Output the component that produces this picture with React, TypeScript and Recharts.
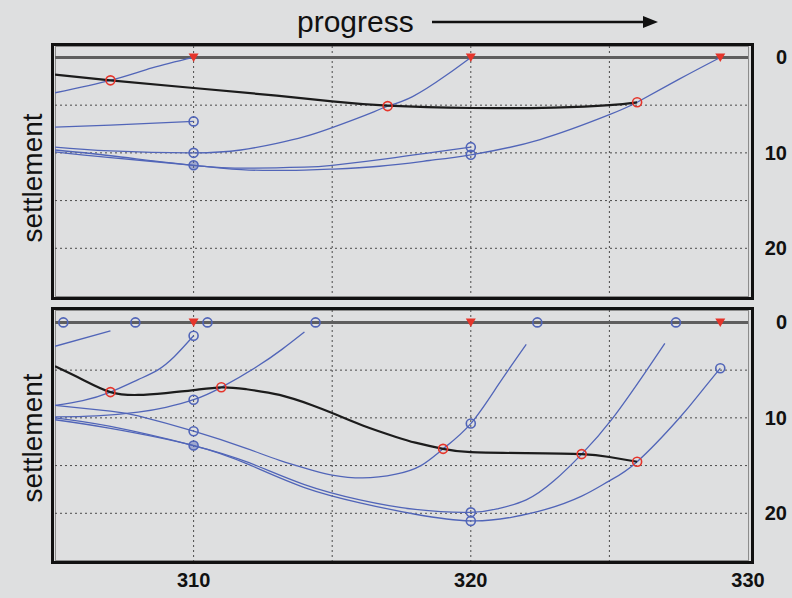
import { LineChart, Line, XAxis, YAxis, CartesianGrid, ReferenceLine } from "recharts";

type Pt = { x: number; y: number };

const xTicks = [310, 320, 330];
const yTicks = [0, 10, 20];
const gridX = [310, 315, 320, 325];
const gridY = [5, 10, 15, 20];

// upper panel
const topBlack: Pt[] = [
  { x: 305, y: 1.8 }, { x: 307, y: 2.4 }, { x: 310, y: 3.2 }, { x: 313, y: 4.0 }, { x: 315, y: 4.6 },
  { x: 317, y: 5.05 }, { x: 320, y: 5.3 }, { x: 323, y: 5.25 }, { x: 325, y: 5.0 }, { x: 326, y: 4.7 },
];
const topCurve1: Pt[] = [{ x: 305, y: 3.7 }, { x: 307, y: 2.4 }, { x: 308.5, y: 1.1 }, { x: 310, y: 0 }];
const topCurve2: Pt[] = [{ x: 305, y: 7.3 }, { x: 307, y: 7.1 }, { x: 310, y: 6.7 }];
const topCurve3: Pt[] = [
  { x: 305, y: 9.4 }, { x: 307, y: 9.8 }, { x: 310, y: 10 }, { x: 311.7, y: 9.7 }, { x: 313, y: 9.0 },
  { x: 314, y: 8.3 }, { x: 315, y: 7.35 }, { x: 316.5, y: 5.7 }, { x: 317, y: 5.1 }, { x: 317.9, y: 4.1 },
  { x: 319.1, y: 1.9 }, { x: 320, y: 0 },
];
const topCurve4: Pt[] = [
  { x: 305, y: 9.7 }, { x: 307, y: 10.3 }, { x: 310, y: 11.3 }, { x: 312, y: 11.6 }, { x: 314, y: 11.5 },
  { x: 315, y: 11.3 }, { x: 317, y: 10.6 }, { x: 318.5, y: 10.0 }, { x: 320, y: 9.4 },
];
const topCurve5: Pt[] = [
  { x: 305, y: 9.9 }, { x: 307, y: 10.5 }, { x: 310, y: 11.3 }, { x: 312, y: 11.8 }, { x: 314, y: 11.8 },
  { x: 315, y: 11.7 }, { x: 316.7, y: 11.4 }, { x: 318.5, y: 10.8 }, { x: 320, y: 10.2 }, { x: 322.5, y: 8.6 },
  { x: 325, y: 6.0 }, { x: 326, y: 4.7 }, { x: 327.5, y: 2.3 }, { x: 329, y: 0 },
];
const topRed: Pt[] = [{ x: 307, y: 2.4 }, { x: 317, y: 5.1 }, { x: 326, y: 4.7 }];
const topTri: Pt[] = [{ x: 310, y: 0 }, { x: 320, y: 0 }, { x: 329, y: 0 }];
const topBlue: Pt[] = [{ x: 310, y: 6.7 }, { x: 310, y: 10 }, { x: 320, y: 9.4 }, { x: 320, y: 10.2 }];
const topBlueDouble: Pt[] = [{ x: 310, y: 11.3 }];

// lower panel
const botBlack: Pt[] = [
  { x: 305, y: 4.6 }, { x: 306, y: 6.0 }, { x: 307, y: 7.3 }, { x: 308, y: 7.6 }, { x: 309, y: 7.4 },
  { x: 310, y: 7.1 }, { x: 311, y: 6.8 }, { x: 311.9, y: 7.0 }, { x: 313.1, y: 7.6 }, { x: 314.3, y: 8.7 },
  { x: 315, y: 9.5 }, { x: 316.1, y: 10.8 }, { x: 317.3, y: 12.0 }, { x: 318, y: 12.6 }, { x: 319, y: 13.25 },
  { x: 320, y: 13.6 }, { x: 322, y: 13.7 }, { x: 324, y: 13.8 }, { x: 325, y: 14.1 }, { x: 326, y: 14.6 },
];
const botCurve1: Pt[] = [{ x: 305, y: 2.5 }, { x: 307, y: 0.9 }];
const botCurve2: Pt[] = [
  { x: 305, y: 8.7 }, { x: 306, y: 8.2 }, { x: 307, y: 7.3 }, { x: 308, y: 6.0 }, { x: 308.7, y: 5.0 },
  { x: 309.3, y: 3.6 }, { x: 310, y: 1.4 },
];
const botCurve3: Pt[] = [
  { x: 305, y: 8.7 }, { x: 307, y: 9.3 }, { x: 308, y: 9.8 }, { x: 310, y: 11.4 }, { x: 311.9, y: 13.2 },
  { x: 313.1, y: 14.45 }, { x: 314.3, y: 15.5 }, { x: 315, y: 16.0 }, { x: 316.1, y: 16.3 }, { x: 317.3, y: 15.9 },
  { x: 318.2, y: 15.0 }, { x: 319, y: 13.25 }, { x: 320, y: 10.6 }, { x: 321, y: 6.5 }, { x: 322, y: 2.3 },
];
const botCurve4: Pt[] = [
  { x: 305, y: 9.9 }, { x: 306.5, y: 9.8 }, { x: 308, y: 9.4 }, { x: 309, y: 8.9 }, { x: 310, y: 8.1 },
  { x: 311, y: 6.8 }, { x: 312.3, y: 4.6 }, { x: 313.2, y: 2.8 }, { x: 314, y: 1.0 },
];
const botCurve5: Pt[] = [
  { x: 305, y: 10.0 }, { x: 307, y: 10.9 }, { x: 310, y: 12.9 }, { x: 312, y: 14.7 }, { x: 314, y: 17.0 },
  { x: 316, y: 18.6 }, { x: 318, y: 19.6 }, { x: 320, y: 19.9 }, { x: 321, y: 19.5 }, { x: 322, y: 18.6 },
  { x: 323, y: 16.6 }, { x: 324, y: 13.8 }, { x: 325.1, y: 10.1 }, { x: 326.3, y: 5.2 }, { x: 327, y: 2.2 },
];
const botCurve6: Pt[] = [
  { x: 305, y: 10.2 }, { x: 307, y: 11.1 }, { x: 310, y: 12.9 }, { x: 312, y: 14.9 }, { x: 314, y: 17.3 },
  { x: 316, y: 18.9 }, { x: 318, y: 20.1 }, { x: 320, y: 20.8 }, { x: 321.5, y: 20.4 }, { x: 322.7, y: 19.6 },
  { x: 324, y: 18.2 }, { x: 325, y: 16.6 }, { x: 326, y: 14.6 }, { x: 327.5, y: 10.1 }, { x: 328.3, y: 7.3 },
  { x: 329, y: 4.8 },
];
const botRed: Pt[] = [
  { x: 307, y: 7.3 }, { x: 311, y: 6.8 }, { x: 319, y: 13.25 }, { x: 324, y: 13.8 }, { x: 326, y: 14.6 },
];
const botTri: Pt[] = [{ x: 310, y: 0 }, { x: 320, y: 0 }, { x: 329, y: 0 }];
const botBlue: Pt[] = [
  { x: 305.3, y: 0 }, { x: 307.9, y: 0 }, { x: 310.5, y: 0 }, { x: 314.4, y: 0 }, { x: 322.4, y: 0 },
  { x: 327.4, y: 0 }, { x: 310, y: 1.4 }, { x: 310, y: 8.1 }, { x: 310, y: 11.4 }, { x: 320, y: 10.6 },
  { x: 320, y: 19.9 }, { x: 320, y: 20.8 }, { x: 329, y: 4.8 },
];
const botBlueDouble: Pt[] = [{ x: 310, y: 12.9 }];

const BG = "#dedfe0";
const BLUE = "#5165b8";
const RED = "#e5352b";
const FONT = "'Liberation Sans', Arial, sans-serif";

const openDot = (color: string, fill = "none") => (p: any) => (
  <circle key={p.index} cx={p.cx} cy={p.cy} r={4.5} fill={fill} stroke={color} strokeWidth={1.6} />
);
const triDot = (p: any) => (
  <path key={p.index} d={`M${p.cx - 5},${p.cy - 4}L${p.cx + 5},${p.cy - 4}L${p.cx},${p.cy + 4.5}Z`} fill={RED} />
);

const YTick = (p: any) => (
  <text x={p.x + 39} y={p.y + 7} textAnchor="end" fontFamily={FONT} fontWeight="bold" fontSize={20} fill="#111">
    {p.payload.value}
  </text>
);
const XTick = (p: any) => (
  <text x={p.x} y={p.y + 26} textAnchor="middle" fontFamily={FONT} fontWeight="bold" fontSize={20} fill="#111">
    {p.payload.value}
  </text>
);

function Panel(props: {
  top: number; height: number; bottom: number; yMin: number; showX: boolean;
  curves: Pt[][]; black: Pt[]; red: Pt[]; tri: Pt[]; blue: Pt[]; blueDouble: Pt[];
}) {
  const { top, height, bottom, yMin, showX, curves, black, red, tri, blue, blueDouble } = props;
  return (
    <div style={{ position: "absolute", left: 0, top, width: 792, height }}>
      <LineChart width={792} height={height} margin={{ top: 46, right: 0, left: 55, bottom }}>
        <CartesianGrid stroke="#4a4a4a" strokeDasharray="2 3" horizontalValues={gridY} verticalValues={gridX} />
        <XAxis type="number" dataKey="x" domain={[305, 330]} ticks={xTicks} interval={0} hide={!showX}
          allowDataOverflow axisLine={false} tickLine={false} tickSize={0} tickMargin={0} tick={<XTick />} height={30} />
        <YAxis orientation="right" type="number" dataKey="y" domain={[yMin, 25]} reversed ticks={yTicks} interval={0}
          allowDataOverflow axisLine={false} tickLine={false} tickSize={0} tickMargin={0} tick={<YTick />} width={44} />
        <ReferenceLine y={0} stroke="#5e5e5e" strokeWidth={3} />
        {curves.map((c, i) => (
          <Line key={i} data={c} dataKey="y" type="natural" stroke={BLUE} strokeWidth={1.3} dot={false}
            activeDot={false} isAnimationActive={false} />
        ))}
        <Line data={black} dataKey="y" type="natural" stroke="#1c1c1c" strokeWidth={2.2} dot={false}
          activeDot={false} isAnimationActive={false} />
        <Line data={blue} dataKey="y" stroke="none" dot={openDot(BLUE)} activeDot={false} isAnimationActive={false} />
        <Line data={blueDouble} dataKey="y" stroke="none" dot={openDot(BLUE, "rgba(81,101,184,0.45)")}
          activeDot={false} isAnimationActive={false} />
        <Line data={red} dataKey="y" stroke="none" dot={openDot(RED)} activeDot={false} isAnimationActive={false} />
        <Line data={tri} dataKey="y" stroke="none" dot={triDot} activeDot={false} isAnimationActive={false} />
      </LineChart>
    </div>
  );
}

const frame = (top: number) => (
  <>
    <div style={{ position: "absolute", left: 51, top: top - 3, width: 703, height: 257, border: "3px solid #111", boxSizing: "border-box" }} />
    <div style={{ position: "absolute", left: 55, top, width: 694, height: 251, border: "1.5px solid #8c8c8c", boxSizing: "border-box" }} />
  </>
);

export default function App() {
  return (
    <div style={{ position: "absolute", left: 0, top: 0, width: 792, height: 598, background: BG, overflow: "hidden" }}>
      {frame(46)}
      {frame(310)}
      <Panel top={0} height={310} bottom={14} yMin={-1.2} showX={false}
        curves={[topCurve1, topCurve2, topCurve3, topCurve4, topCurve5]} black={topBlack}
        red={topRed} tri={topTri} blue={topBlue} blueDouble={topBlueDouble} />
      <Panel top={264} height={334} bottom={7} yMin={-1.3} showX
        curves={[botCurve1, botCurve2, botCurve3, botCurve4, botCurve5, botCurve6]} black={botBlack}
        red={botRed} tri={botTri} blue={botBlue} blueDouble={botBlueDouble} />
      <svg width={792} height={598} style={{ position: "absolute", left: 0, top: 0, pointerEvents: "none" }}>
        <text x={297} y={32} fontFamily={FONT} fontSize={30} fill="#111">progress</text>
        <line x1={432} y1={22} x2={645} y2={22} stroke="#111" strokeWidth={2.5} />
        <path d="M643,16L658,22L643,28Z" fill="#111" />
        <text transform="translate(42,178) rotate(-90)" textAnchor="middle" fontFamily={FONT} fontSize={28} fill="#111">settlement</text>
        <text transform="translate(42,438) rotate(-90)" textAnchor="middle" fontFamily={FONT} fontSize={28} fill="#111">settlement</text>
      </svg>
    </div>
  );
}
